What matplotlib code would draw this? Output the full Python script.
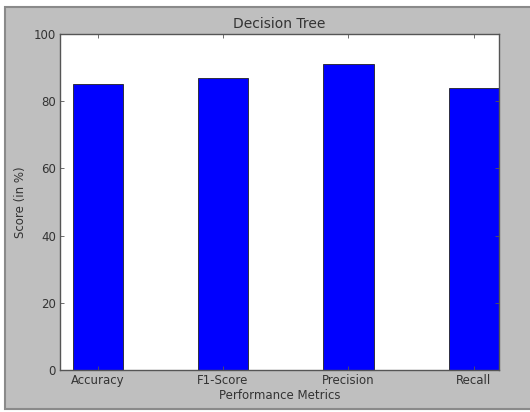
import numpy as np
import matplotlib
matplotlib.use('Agg')
import matplotlib.pyplot as plt
from matplotlib.patches import Rectangle

# values
metrics = ['Accuracy', 'F1-Score', 'Precision', 'Recall']
scores = [85, 87, 91, 84]
yticks = [0, 20, 40, 60, 80, 100]

fig = plt.figure(figsize=(5.3, 4.12), dpi=100, facecolor='white')
# gray window-like frame behind the plot
fig.patches.append(Rectangle((5 / 530, 3 / 412), 1.1, 402 / 412, transform=fig.transFigure,
                             facecolor='#bfbfbf', edgecolor='#8a8a8a', linewidth=1.5, zorder=-10))

ax = fig.add_axes([60 / 530, 42 / 412, 439 / 530, 336 / 412])
ax.set_zorder(5)
ax.set_facecolor('white')

x = np.arange(len(metrics))
ax.bar(x, scores, width=0.4, color='#0000ff', edgecolor='#222222', linewidth=0.6)

ax.set_xlim(-0.3, 3.2)
ax.set_ylim(0, 100)
ax.set_xticks(x)
ax.set_xticklabels(metrics)
ax.set_yticks(yticks)
ax.tick_params(direction='in', top=True, right=True, length=3, width=0.6,
               labelsize=8.5, colors='#555555', labelcolor='#333333', pad=3)
for s in ax.spines.values():
    s.set_color('#555555')
    s.set_linewidth(1.0)

ax.set_title('Decision Tree', fontsize=10, color='#333333', pad=4)
ax.set_xlabel('Performance Metrics', fontsize=8.5, color='#333333', labelpad=1.5)
ax.set_ylabel('Score (in %)', fontsize=8.5, color='#333333', labelpad=5)

fig.savefig('out.png', dpi=100, facecolor=fig.get_facecolor())
